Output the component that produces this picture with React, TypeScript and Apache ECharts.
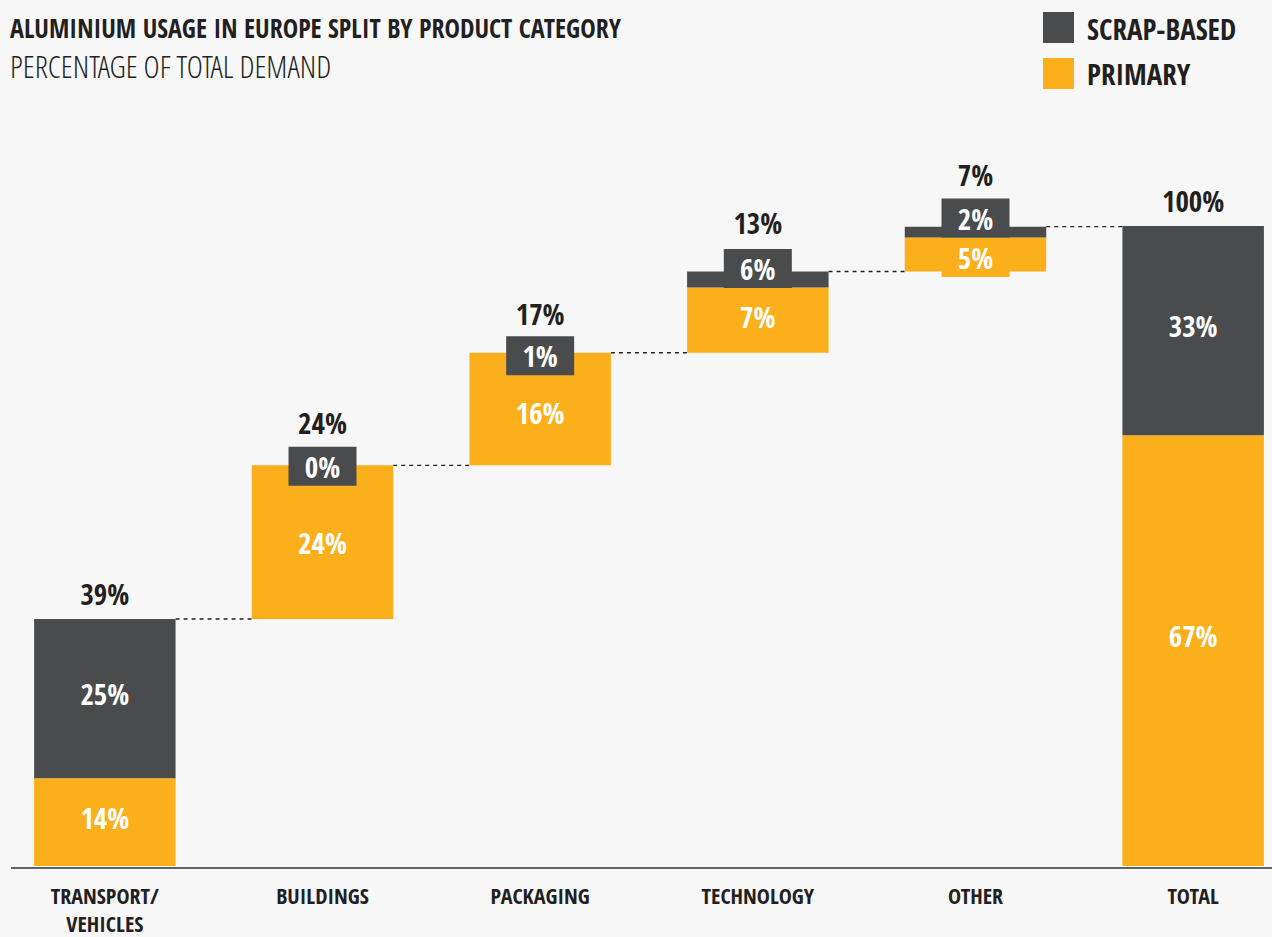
import React, { useEffect, useRef } from "react";
import * as echarts from "echarts";

const categories = ["TRANSPORT/\nVEHICLES", "BUILDINGS", "PACKAGING", "TECHNOLOGY", "OTHER", "TOTAL"];
const primaryValues = [13.7, 24.0, 17.6, 10.2, 5.3, 67.3];
const scrapValues = [24.9, 0, 0, 2.5, 1.7, 32.7];
const totalLabels = ["39%", "24%", "17%", "13%", "7%", "100%"];
const scrapLabels = ["25%", "0%", "1%", "6%", "2%", "33%"];
const primaryLabels = ["14%", "24%", "16%", "7%", "5%", "67%"];
const isTotal = [false, false, false, false, false, true];

// label offsets (styling only)
const scrapLabelDy = [-5, 1, 3, -11, -14, -5];
const primaryLabelDy = [-5, 0, 3, -4, 3, -15];
const topLabelDy = [0, -17, -14, -23, -27, 0];

const DARK = "#4a4b4d";
const ORANGE = "#fbaf1a";
const TEXT = "#231f20";
const FONT =
  '"Noto Sans ExtraCondensed", "Noto Sans Condensed", "Open Sans Condensed", "DejaVu Sans Condensed", sans-serif';
const FONT_LIGHT =
  '"Open Sans Condensed Light", "Noto Sans ExtraCondensed Light", "Noto Sans Condensed Light", "Noto Sans ExtraCondensed", "DejaVu Sans Condensed", sans-serif';
const DX = 4; // inner canvas is shifted 4px left of the page

export default function App() {
  const ref = useRef<HTMLDivElement>(null);
  useEffect(() => {
    if (!ref.current) return;
    const chart = echarts.init(ref.current, undefined, { renderer: "svg" });

    const base: number[] = [];
    const tops: number[] = [];
    let acc = 0;
    categories.forEach((_, i) => {
      if (isTotal[i]) {
        base.push(0);
        tops.push(primaryValues[i] + scrapValues[i]);
      } else {
        base.push(acc);
        acc += primaryValues[i] + scrapValues[i];
        tops.push(acc);
      }
    });
    const connectors = tops.slice(0, -1).map((v, i) => [i, v]);
    const BAR_RATIO = 0.65;

    const boxLabel = (bg: string) => ({
      show: true,
      position: "inside",
      color: "#ffffff",
      fontFamily: FONT,
      fontWeight: "bold",
      fontSize: 29,
      backgroundColor: bg,
      width: 68,
      height: 39,
      lineHeight: 39,
      align: "center",
      verticalAlign: "middle",
    });

    chart.setOption({
      animation: false,
      backgroundColor: "#f7f7f7",
      graphic: [
        { type: "text", x: 10 + DX, y: 28, style: { text: "ALUMINIUM USAGE IN EUROPE SPLIT BY PRODUCT CATEGORY", fill: TEXT, font: `bold 26px ${FONT}`, verticalAlign: "middle" } },
        { type: "text", x: 10 + DX, y: 66, style: { text: "PERCENTAGE OF TOTAL DEMAND", fill: TEXT, font: `300 31px ${FONT_LIGHT}`, verticalAlign: "middle" } },
        { type: "line", shape: { x1: 11 + DX, y1: 868, x2: 1272 + DX, y2: 868 }, style: { stroke: "#333333", lineWidth: 1.5 }, z: 100 },
        { type: "rect", shape: { x: 1043 + DX, y: 12, width: 31, height: 31 }, style: { fill: DARK } },
        { type: "rect", shape: { x: 1043 + DX, y: 58, width: 31, height: 31 }, style: { fill: ORANGE } },
        { type: "text", x: 1087 + DX, y: 28, style: { text: "SCRAP-BASED", fill: TEXT, font: `bold 29px ${FONT}`, verticalAlign: "middle" } },
        { type: "text", x: 1087 + DX, y: 73, style: { text: "PRIMARY", fill: TEXT, font: `bold 29px ${FONT}`, verticalAlign: "middle" } },
      ],
      grid: { left: 0, top: 226, width: 1306, height: 642 },
      xAxis: {
        type: "category",
        data: categories,
        axisLine: { show: false },
        axisTick: { show: false },
        axisLabel: {
          margin: 15,
          fontFamily: FONT,
          fontWeight: "bold",
          fontSize: 22,
          lineHeight: 28,
          color: TEXT,
          interval: 0,
        },
      },
      yAxis: { type: "value", min: 0, max: 100, show: false, splitLine: { show: false } },
      series: [
        {
          name: "base",
          type: "bar",
          stack: "w",
          barWidth: "65%",
          itemStyle: { color: "transparent" },
          data: base,
          silent: true,
        },
        {
          name: "PRIMARY",
          type: "bar",
          stack: "w",
          itemStyle: { color: ORANGE },
          data: primaryValues.map((v, i) => ({
            value: v,
            label: { ...boxLabel(ORANGE), offset: [0, primaryLabelDy[i]], formatter: primaryLabels[i] },
          })),
        },
        {
          name: "SCRAP-BASED",
          type: "bar",
          stack: "w",
          itemStyle: { color: DARK },
          data: scrapValues.map((v, i) => ({
            value: v,
            label: { ...boxLabel(DARK), offset: [0, scrapLabelDy[i]], formatter: scrapLabels[i] },
          })),
        },
        {
          name: "tops",
          type: "bar",
          stack: "w",
          itemStyle: { color: "transparent" },
          data: totalLabels.map((t, i) => ({
            value: 0,
            label: {
              show: true,
              position: "top",
              distance: 11,
              offset: [0, topLabelDy[i]],
              formatter: t,
              fontFamily: FONT,
              fontWeight: "bold",
              fontSize: 29,
              color: TEXT,
            },
          })),
        },
        {
          name: "connectors",
          type: "custom",
          data: connectors,
          encode: { x: 0, y: 1 },
          z: 1,
          renderItem: (params: any, api: any) => {
            const p = api.coord([api.value(0), api.value(1)]);
            const band = api.size([1, 0])[0];
            const bw = band * BAR_RATIO;
            return {
              type: "line",
              shape: { x1: p[0] + bw / 2, y1: p[1], x2: p[0] + band - bw / 2, y2: p[1] },
              style: { stroke: "#222222", lineWidth: 1.4, lineDash: [4, 4] },
            };
          },
        },
      ],
    });
    return () => chart.dispose();
  }, []);
  return (
    <div style={{ position: "fixed", left: 0, top: 0, right: 0, bottom: 0, overflow: "hidden", background: "#f7f7f7" }}>
      <div ref={ref} style={{ position: "absolute", left: -DX, top: 0, width: 1310, height: 937 }} />
    </div>
  );
}
